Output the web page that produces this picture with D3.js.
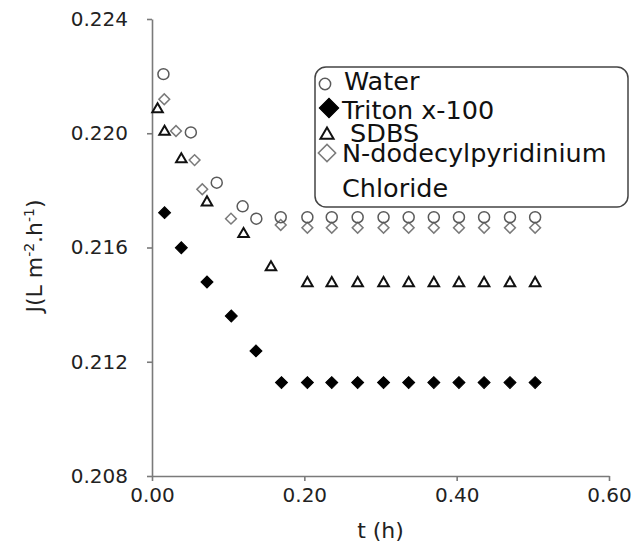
<html>
  <head>
    <title>J vs t</title>
    <script type="text/javascript" src="https://cdn.jsdelivr.net/npm/d3@7/dist/d3.min.js"></script>
    <style>
      body { margin: 0; background: white; }
      svg { display: block; font-family: "DejaVu Sans", sans-serif; }
    </style>
  </head>
  <body>
    <script type="text/javascript">
      // Data (t in hours, J in L m-2 h-1)
      const tWater = [0.015, 0.051, 0.085, 0.119, 0.137, 0.169, 0.204, 0.236, 0.270, 0.304, 0.337, 0.370, 0.403, 0.436, 0.470, 0.503];
      const jWater = [0.22207, 0.22003, 0.21827, 0.21744, 0.21701, 0.21706, 0.21706, 0.21706, 0.21706, 0.21706, 0.21706, 0.21706, 0.21706, 0.21706, 0.21706, 0.21706];

      const tTriton = [0.0165, 0.0385, 0.0722, 0.1041, 0.1365, 0.170, 0.204, 0.236, 0.270, 0.304, 0.337, 0.370, 0.403, 0.436, 0.470, 0.503];
      const jTriton = [0.21722, 0.21599, 0.21479, 0.21360, 0.21238, 0.21127, 0.21127, 0.21127, 0.21127, 0.21127, 0.21127, 0.21127, 0.21127, 0.21127, 0.21127, 0.21127];

      const tSDBS = [0.0073, 0.0165, 0.0385, 0.0722, 0.1202, 0.1562, 0.204, 0.236, 0.270, 0.304, 0.337, 0.370, 0.403, 0.436, 0.470, 0.503];
      const jSDBS = [0.22084, 0.22005, 0.21909, 0.21758, 0.21647, 0.21531, 0.21475, 0.21475, 0.21475, 0.21475, 0.21475, 0.21475, 0.21475, 0.21475, 0.21475, 0.21475];

      const tNdp = [0.0161, 0.0315, 0.0559, 0.066, 0.1037, 0.169, 0.204, 0.236, 0.270, 0.304, 0.337, 0.370, 0.403, 0.436, 0.470, 0.503];
      const jNdp = [0.22119, 0.22008, 0.21906, 0.21804, 0.21701, 0.21679, 0.21669, 0.21669, 0.21669, 0.21669, 0.21669, 0.21669, 0.21669, 0.21669, 0.21669, 0.21669];

      const seriesNames = ["Water", "Triton x-100", " SDBS", "N-dodecylpyridinium"];
      const xTicks = [0, 0.2, 0.4, 0.6];
      const yTicks = [0.208, 0.212, 0.216, 0.220, 0.224];

      const w = 643;
      const h = 549;
      const padL = 152, padR = 609, padT = 19, padB = 476;

      const xScale = d3.scaleLinear().domain([0, 0.6]).range([padL, padR]);
      const yScale = d3.scaleLinear().domain([0.208, 0.224]).range([padB, padT]);

      const svg = d3.select("body").append("svg")
        .attr("width", w)
        .attr("height", h);

      svg.append("rect").attr("width", w).attr("height", h).attr("fill", "white");

      // Axes
      const xAxis = d3.axisBottom(xScale).tickValues(xTicks).tickFormat(d3.format(".2f"))
        .tickSize(5).tickSizeOuter(0).tickPadding(7);
      const yAxis = d3.axisLeft(yScale).tickValues(yTicks).tickFormat(d3.format(".3f"))
        .tickSize(5).tickSizeOuter(0).tickPadding(19);

      const gx = svg.append("g").attr("transform", "translate(0," + padB + ")").call(xAxis);
      const gy = svg.append("g").attr("transform", "translate(" + padL + ",0)").call(yAxis);

      [gx, gy].forEach(function (g) {
        g.selectAll("path, line").attr("stroke", "#7a7a7a").attr("stroke-width", 1.6);
        g.selectAll("text").attr("font-size", 20).attr("fill", "#222")
          .attr("font-family", "DejaVu Sans");
      });

      // Axis titles
      svg.append("text")
        .attr("x", (padL + padR) / 2)
        .attr("y", 538)
        .attr("text-anchor", "middle")
        .attr("font-size", 22)
        .attr("fill", "#222")
        .text("t (h)");

      const yt = svg.append("text")
        .attr("transform", "translate(42,256) rotate(-90)")
        .attr("text-anchor", "middle")
        .attr("font-size", 22)
        .attr("fill", "#222");
      yt.append("tspan").text("J(L m");
      yt.append("tspan").attr("font-size", 14).attr("dy", -8).text("-2");
      yt.append("tspan").attr("dy", 8).text(".h");
      yt.append("tspan").attr("font-size", 14).attr("dy", -8).text("-1");
      yt.append("tspan").attr("dy", 8).text(")");

      // Marker styles
      const styles = [
        { type: d3.symbolCircle, size: 95, rot: 0, fill: "none", stroke: "#5a5a5a", sw: 1.5 },
        { type: d3.symbolSquare, size: 72, rot: 45, fill: "#000", stroke: "#000", sw: 1 },
        { type: d3.symbolTriangle, size: 48, rot: 0, fill: "none", stroke: "#111", sw: 2 },
        { type: d3.symbolSquare, size: 58, rot: 45, fill: "none", stroke: "#7a7a7a", sw: 1.5 }
      ];

      const series = [
        { t: tWater, j: jWater },
        { t: tTriton, j: jTriton },
        { t: tSDBS, j: jSDBS },
        { t: tNdp, j: jNdp }
      ];

      // draw N-dodecylpyridinium first so circles sit on top like the picture
      [3, 2, 1, 0].forEach(function (k) {
        const s = styles[k];
        const pts = series[k].t.map(function (t, i) { return [t, series[k].j[i]]; });
        svg.append("g").selectAll("path")
          .data(pts)
          .enter()
          .append("path")
          .attr("d", d3.symbol().type(s.type).size(s.size))
          .attr("transform", function (d) {
            return "translate(" + xScale(d[0]) + "," + yScale(d[1]) + ") rotate(" + s.rot + ")";
          })
          .attr("fill", s.fill)
          .attr("stroke", s.stroke)
          .attr("stroke-width", s.sw);
      });

      // Legend
      const lg = svg.append("g");
      lg.append("rect")
        .attr("x", 315).attr("y", 67)
        .attr("width", 313).attr("height", 140)
        .attr("rx", 11)
        .attr("fill", "white")
        .attr("stroke", "#444")
        .attr("stroke-width", 1.5);

      const legendBase = [90, 119, 142, 162];
      const legendX = [344, 342, 342, 342];
      const legendMark = [[325, 84, 100], [329, 108, 190], [327, 135, 75], [327, 153, 150]];
      seriesNames.forEach(function (name, k) {
        const s = styles[k];
        lg.append("path")
          .attr("d", d3.symbol().type(s.type).size(legendMark[k][2]))
          .attr("transform", "translate(" + legendMark[k][0] + "," + legendMark[k][1] + ") rotate(" + s.rot + ")")
          .attr("fill", s.fill)
          .attr("stroke", s.stroke)
          .attr("stroke-width", s.sw);
        lg.append("text")
          .attr("x", legendX[k])
          .attr("y", legendBase[k])
          .attr("font-size", 25.5)
          .attr("fill", "#111")
          .style("white-space", "pre")
          .text(name);
      });
      lg.append("text")
        .attr("x", 342)
        .attr("y", 197)
        .attr("font-size", 25.5)
        .attr("fill", "#111")
        .text("Chloride");
    </script>
  </body>
</html>
